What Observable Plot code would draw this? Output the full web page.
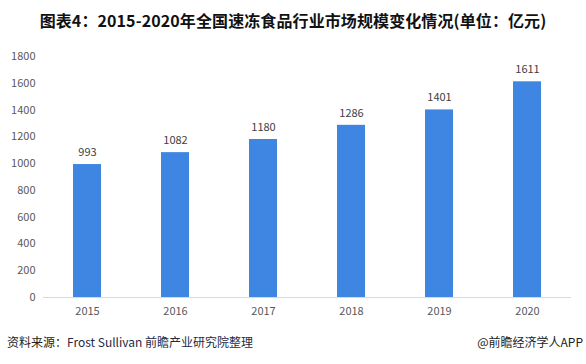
<!DOCTYPE html>
<html><head><meta charset="utf-8">
<script src="https://cdn.jsdelivr.net/npm/d3@7"></script>
<script src="https://cdn.jsdelivr.net/npm/@observablehq/plot@0.6"></script>
<style>
body{margin:0;background:#fff;width:586px;height:364px;overflow:hidden;font-family:"Noto Sans CJK SC","Noto Sans",sans-serif;}
#title{height:40px;line-height:40px;text-align:center;font-size:16px;font-weight:bold;color:#111;letter-spacing:0.1px;}
#chart svg{display:block;}
#foot{position:relative;height:34px;font-size:12px;}
#foot .l{position:absolute;left:7px;top:3px;color:#222;}
#foot .l span{color:#1f2a44;}
#foot .r{position:absolute;right:3px;top:3px;color:#222;}
</style></head>
<body>
<div id="title">图表4：2015-2020年全国速冻食品行业市场规模变化情况(单位：亿元)</div>
<div id="chart"></div>
<div id="foot"><div class="l">资料来源：<span>Frost Sullivan 前瞻产业研究院整理</span></div><div class="r">@前瞻经济学人APP</div></div>
<script>
const years = ["2015","2016","2017","2018","2019","2020"];
const values = [993, 1082, 1180, 1286, 1401, 1611];
const yTicks = [0,200,400,600,800,1000,1200,1400,1600,1800];
const data = years.map((y,i)=>({year:y, value:values[i]}));
const chart = Plot.plot({
  width: 586, height: 290,
  marginLeft: 43, marginRight: 15, marginTop: 16, marginBottom: 33,
  style: {fontFamily: '"Noto Sans CJK SC","Noto Sans",sans-serif', fontSize: "11px", color: "#595959", background: "#fff"},
  x: {domain: years, paddingInner: 0.68, paddingOuter: 0.34, label: null, tickSize: 0, tickPadding: 10},
  y: {domain: [0,1800], ticks: yTicks, tickFormat: d => String(d), label: null, tickSize: 0, tickPadding: 8},
  marks: [
    Plot.barY(data, {x: "year", y: "value", fill: "#3f86e2"}),
    Plot.ruleY([0], {stroke: "#d9d9d9", strokeWidth: 1}),
    Plot.text(data, {x: "year", y: "value", text: d => String(d.value), dy: -12, fill: "#404040", fontSize: 11})
  ]
});
document.getElementById("chart").appendChild(chart);
</script>
</body></html>
